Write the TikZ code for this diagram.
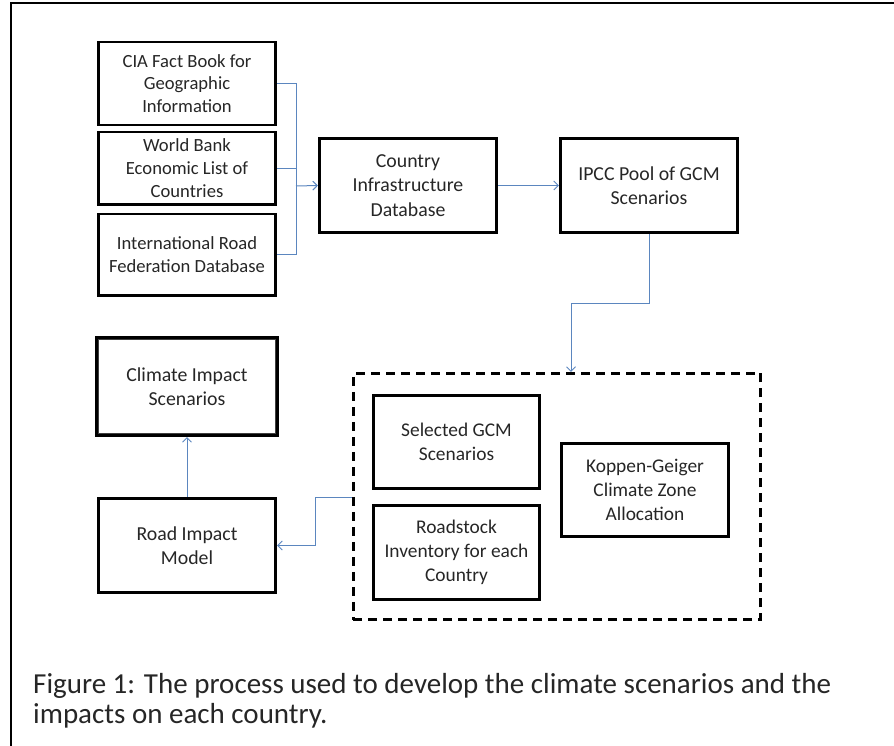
\documentclass[tikz,border=0pt]{standalone}
\usepackage{fontspec}
\setmainfont{Carlito}
\usetikzlibrary{arrows.meta}
\definecolor{conncol}{HTML}{5B86BF}
\definecolor{txt}{HTML}{262626}
\tikzset{
  boxnode/.style={draw=black, line width=2.6pt, align=center, inner sep=1pt,
    text=txt, font=\fontsize{19.8}{24.4}\selectfont},
  srcnode/.style={boxnode, font=\fontsize{18.6}{22.8}\selectfont},
  grpnode/.style={boxnode, font=\fontsize{19.4}{24}\selectfont},
  conn/.style={draw=conncol, line width=1pt},
  connarrow/.style={conn, -{Straight Barb[length=4.5pt,width=9pt]}},
  groupbox/.style={draw=black, line width=2.6pt, dash pattern=on 9pt off 6pt},
  captext/.style={anchor=base west, inner sep=0pt, text=txt, font=\fontsize{29}{31}\selectfont}
}
\begin{document}
\begin{tikzpicture}[x=1pt,y=-1pt]
\useasboundingbox (0,0) rectangle (894,746);
% frame
\draw[line width=2pt] (11,746) -- (11,3.5) -- (894,3.5);

% sources
\node[srcnode, minimum width=177.5pt, minimum height=83pt] (cia) at (187,83.5) {CIA Fact Book for\\Geographic\\Information};
\node[srcnode, minimum width=177.5pt, minimum height=72.5pt] (wb) at (187,168.2) {World Bank\\Economic List of\\Countries};
\node[srcnode, minimum width=177.5pt, minimum height=81.5pt] (irf) at (187,254.7) {International Road\\Federation Database};

\node[boxnode, minimum width=177.5pt, minimum height=94.5pt] (cdb) at (408,185.5) {Country\\Infrastructure\\Database};
\node[boxnode, minimum width=177.5pt, minimum height=94.5pt] (ipcc) at (649,185.5) {IPCC Pool of GCM\\Scenarios};

% group
\node[groupbox, minimum width=407.5pt, minimum height=246.5pt] (grp) at (557,496.5) {};
\node[grpnode, minimum width=166.5pt, minimum height=93.5pt] (sel) at (456.5,442) {Selected GCM\\Scenarios};
\node[grpnode, minimum width=166.5pt, minimum height=94.5pt] (rs) at (456.5,552.5) {Roadstock\\Inventory for each\\Country};
\node[grpnode, minimum width=167.5pt, minimum height=93.5pt] (kg) at (645,490) {Koppen-Geiger\\Climate Zone\\Allocation};

% outputs
\node[boxnode, line width=4pt, minimum width=180pt, minimum height=97pt] (clim) at (187,386.5) {Climate Impact\\Scenarios};
\draw[line width=0.9pt, black!75] ([shift={(3.6,3.6)}]clim.north west) rectangle ([shift={(-3.6,-3.6)}]clim.south east);
\node[boxnode, minimum width=177.5pt, minimum height=94.5pt] (road) at (187,545.5) {Road Impact\\Model};

% connectors
\coordinate (j) at (296,186);
\draw[conn] (cia.east) -| (j);
\draw[conn] (irf.east) -| (j);
\draw[conn] (wb.east) -- (wb.east -| j);
\draw[connarrow] (j) -- (cdb.west);
\draw[connarrow] (cdb.east) -- (ipcc.west);
\coordinate (g1) at (571,303);
\draw[connarrow] (ipcc.south) |- (g1) -- (g1 |- grp.north);
\coordinate (g2) at (315,497);
\draw[connarrow] (g2 -| grp.west) -- (g2) |- (road.east);
\draw[connarrow] (road.north) -- (clim.south);

% caption
\node[captext] (cap1) at (33,693) {Figure 1: The process used to develop the climate scenarios and the};
\node[captext] (cap2) at (33,723) {impacts on each country.};
\end{tikzpicture}
\end{document}
